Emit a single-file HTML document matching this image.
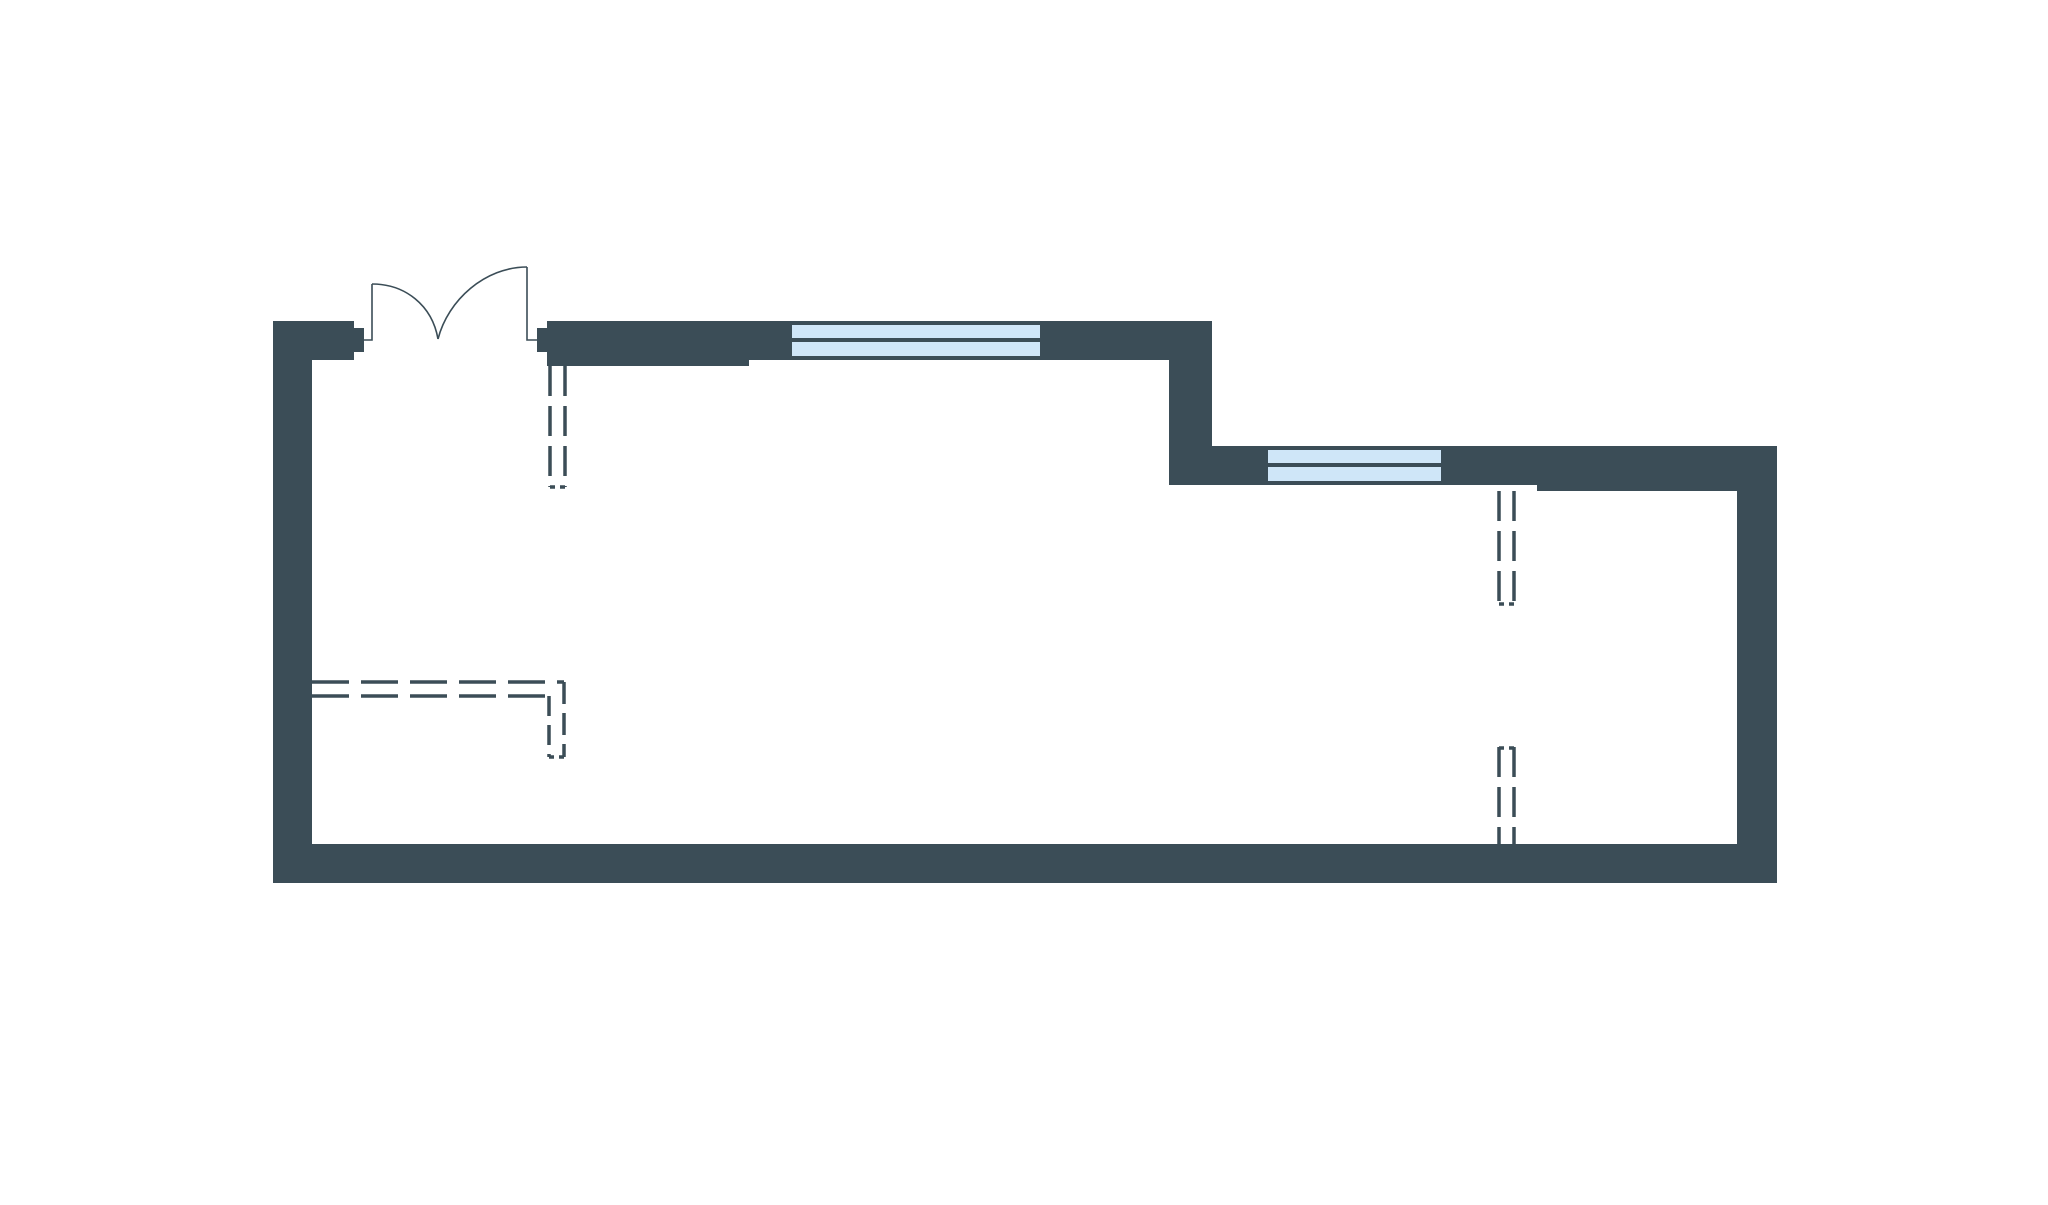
<!DOCTYPE html>
<html><head><meta charset="utf-8"><style>html,body{margin:0;padding:0;background:#fff}svg{display:block}</style></head>
<body>
<svg width="2048" height="1205" viewBox="0 0 2048 1205" xmlns="http://www.w3.org/2000/svg">
<rect width="2048" height="1205" fill="#ffffff"/>
<g fill="#3b4d57">
  <rect x="273" y="321" width="39" height="562"/>
  <rect x="273" y="321" width="81" height="39"/>
  <rect x="352" y="328" width="12" height="24"/>
  <rect x="537" y="328" width="12" height="24"/>
  <rect x="547" y="321" width="665" height="39"/>
  <rect x="547" y="355" width="202" height="11"/>
  <rect x="1169" y="321" width="43" height="164"/>
  <rect x="1169" y="446" width="608" height="39"/>
  <rect x="1537" y="480" width="240" height="11"/>
  <rect x="1737" y="446" width="40" height="437"/>
  <rect x="273" y="844" width="1504" height="39"/>
</g>
<rect x="790" y="321" width="252" height="39" fill="#3b4d57"/>
<rect x="792" y="325" width="248" height="13" fill="#cfe6f8"/>
<rect x="792" y="342" width="248" height="14" fill="#cfe6f8"/>
<rect x="1268" y="446" width="173" height="39" fill="#3b4d57"/>
<rect x="1268" y="450" width="173" height="13" fill="#cfe6f8"/>
<rect x="1268" y="467" width="173" height="14" fill="#cfe6f8"/>
<g fill="none" stroke="#3b4d57" stroke-width="1.6">
  <polyline points="364,340 372,340 372,284"/>
  <path d="M372,284 C405,284 432,305 438,339"/>
  <polyline points="537,340 527,340 527,267"/>
  <path d="M527,267 C485,267 448,300 438,339"/>
</g>
<g fill="none" stroke="#3b4d57" stroke-width="3.5" stroke-dasharray="30 10">
  <line x1="550" y1="366" x2="550" y2="487"/>
  <line x1="565" y1="366" x2="565" y2="487"/>
  <line x1="550" y1="487" x2="565" y2="487" stroke-dasharray="5 5"/>
  <line x1="1499" y1="491" x2="1499" y2="604"/>
  <line x1="1514" y1="491" x2="1514" y2="604"/>
  <line x1="1499" y1="604" x2="1514" y2="604" stroke-dasharray="5 5"/>
  <line x1="1499" y1="747" x2="1499" y2="844"/>
  <line x1="1514" y1="747" x2="1514" y2="844"/>
  <line x1="1499" y1="748" x2="1514" y2="748" stroke-dasharray="5 5"/>
  <line x1="312" y1="682" x2="564" y2="682" stroke-dasharray="37 12"/>
  <line x1="312" y1="696" x2="549" y2="696" stroke-dasharray="37 12"/>
  <line x1="564" y1="682" x2="564" y2="757" stroke-dasharray="22 9"/>
  <line x1="549" y1="696" x2="549" y2="757" stroke-dasharray="20 9"/>
  <line x1="549" y1="757" x2="564" y2="757" stroke-dasharray="5 5"/>
</g>
</svg>
</body></html>
